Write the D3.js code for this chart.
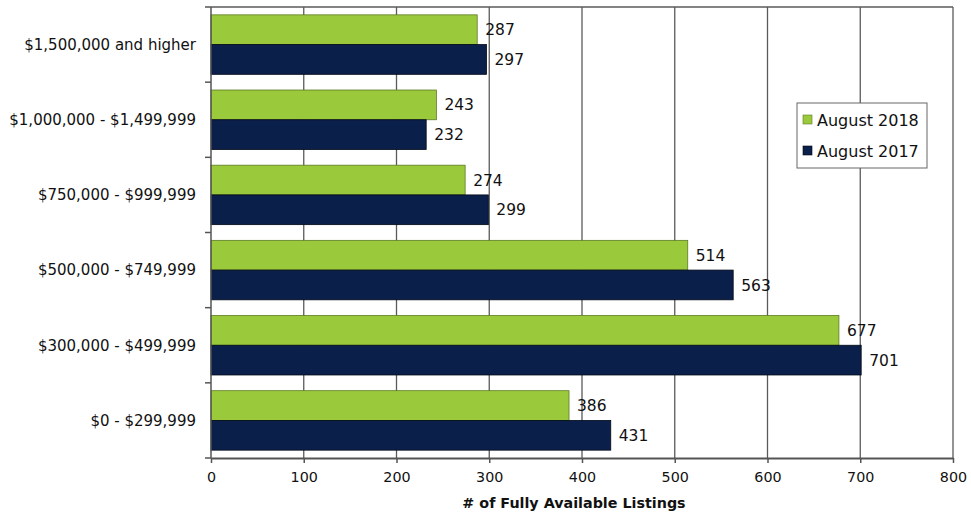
<!DOCTYPE html>
<html>
<head>
<meta charset="utf-8">
<script src="https://cdn.jsdelivr.net/npm/d3@7"></script>
<style>
  html, body { margin: 0; padding: 0; background: #fff; }
  svg { display: block; font-family: "DejaVu Sans", sans-serif; }
</style>
</head>
<body>
<svg id="chart" width="971" height="512"></svg>
<script>
const categories = [
  "$1,500,000 and higher",
  "$1,000,000 - $1,499,999",
  "$750,000 - $999,999",
  "$500,000 - $749,999",
  "$300,000 - $499,999",
  "$0 - $299,999"
];
const seriesNames = ["August 2018", "August 2017"];
const aug2018 = [287, 243, 274, 514, 677, 386];
const aug2017 = [297, 232, 299, 563, 701, 431];
const xTicks = [0, 100, 200, 300, 400, 500, 600, 700, 800];
const axisTitle = "# of Fully Available Listings";

const colors = { "August 2018": "#9aca3c", "August 2017": "#0b1f4b" };
const strokes = { "August 2018": "#5d7a22", "August 2017": "#000814" };

const svg = d3.select("#chart");
const margin = { top: 7, right: 18, bottom: 54, left: 211 };
const W = 971, H = 512;
const innerW = W - margin.left - margin.right;
const innerH = H - margin.top - margin.bottom;

const x = d3.scaleLinear().domain([0, 800]).range([0, innerW]);
const y = d3.scaleBand().domain(categories).range([0, innerH]).paddingInner(0).paddingOuter(0);
const ySub = d3.scaleBand().domain(seriesNames).range([0, y.bandwidth()]).paddingOuter(0.264).paddingInner(0);

const g = svg.append("g").attr("transform", `translate(${margin.left},${margin.top})`);

// gridlines (vertical)
g.append("g").selectAll("line").data(xTicks.slice(1)).join("line")
  .attr("x1", d => x(d)).attr("x2", d => x(d))
  .attr("y1", 0).attr("y2", innerH)
  .attr("stroke", "#5a5a5a").attr("stroke-width", 1.3);
// top border
g.append("line").attr("x1", 0).attr("x2", innerW).attr("y1", 0).attr("y2", 0)
  .attr("stroke", "#5a5a5a").attr("stroke-width", 1.3);

// bars
const data = categories.map((c, i) => ({ cat: c, vals: [
  { s: "August 2018", v: aug2018[i] },
  { s: "August 2017", v: aug2017[i] }
]}));

const groups = g.append("g").selectAll("g").data(data).join("g")
  .attr("transform", d => `translate(0,${y(d.cat)})`);

groups.selectAll("rect").data(d => d.vals).join("rect")
  .attr("x", 0)
  .attr("y", d => ySub(d.s))
  .attr("width", d => x(d.v))
  .attr("height", ySub.bandwidth())
  .attr("fill", d => colors[d.s])
  .attr("stroke", d => strokes[d.s])
  .attr("stroke-width", 0.8);

groups.selectAll("text").data(d => d.vals).join("text")
  .attr("x", d => x(d.v) + 8)
  .attr("y", d => ySub(d.s) + ySub.bandwidth() / 2)
  .attr("dy", "0.36em")
  .attr("font-size", 15.5)
  .attr("fill", "#111")
  .text(d => d.v);

// x axis
const xAxis = g.append("g").attr("transform", `translate(0,${innerH})`)
  .call(d3.axisBottom(x).tickValues(xTicks).tickSize(5).tickPadding(9).tickSizeOuter(0));
xAxis.select(".domain").attr("stroke", "#555").attr("stroke-width", 2);
xAxis.selectAll(".tick line").attr("stroke", "#555").attr("stroke-width", 1.5);
xAxis.selectAll(".tick text").attr("font-size", 14.3).attr("fill", "#111")
  .attr("font-family", "DejaVu Sans, sans-serif");

// y axis
const yTickPos = categories.map(c => y(c)).concat([innerH]);
g.append("line").attr("x1", 0).attr("x2", 0).attr("y1", 0).attr("y2", innerH)
  .attr("stroke", "#555").attr("stroke-width", 1.5);
g.append("g").selectAll("line").data(yTickPos).join("line")
  .attr("x1", -6).attr("x2", 0).attr("y1", d => d).attr("y2", d => d)
  .attr("stroke", "#555").attr("stroke-width", 1.5);
g.append("g").selectAll("text").data(categories).join("text")
  .attr("x", -15)
  .attr("y", d => y(d) + y.bandwidth() / 2)
  .attr("dy", "0.36em")
  .attr("text-anchor", "end")
  .attr("font-size", 15)
  .attr("fill", "#111")
  .text(d => d);

// axis title
svg.append("text")
  .attr("x", 574).attr("y", 508)
  .attr("text-anchor", "middle")
  .attr("font-size", 14.3)
  .attr("font-weight", "bold")
  .attr("fill", "#111")
  .text(axisTitle);

// legend
const lg = svg.append("g").attr("transform", "translate(797,103)");
lg.append("rect").attr("width", 130).attr("height", 65)
  .attr("fill", "#fff").attr("stroke", "#666").attr("stroke-width", 1);
seriesNames.forEach((s, i) => {
  const cy = 17 + i * 31;
  lg.append("rect").attr("x", 6).attr("y", cy - 5).attr("width", 9).attr("height", 9)
    .attr("fill", colors[s]).attr("stroke", strokes[s]).attr("stroke-width", 0.6);
  lg.append("text").attr("x", 20).attr("y", cy).attr("dy", "0.36em")
    .attr("font-size", 16).attr("fill", "#111").text(s);
});
</script>
</body>
</html>
